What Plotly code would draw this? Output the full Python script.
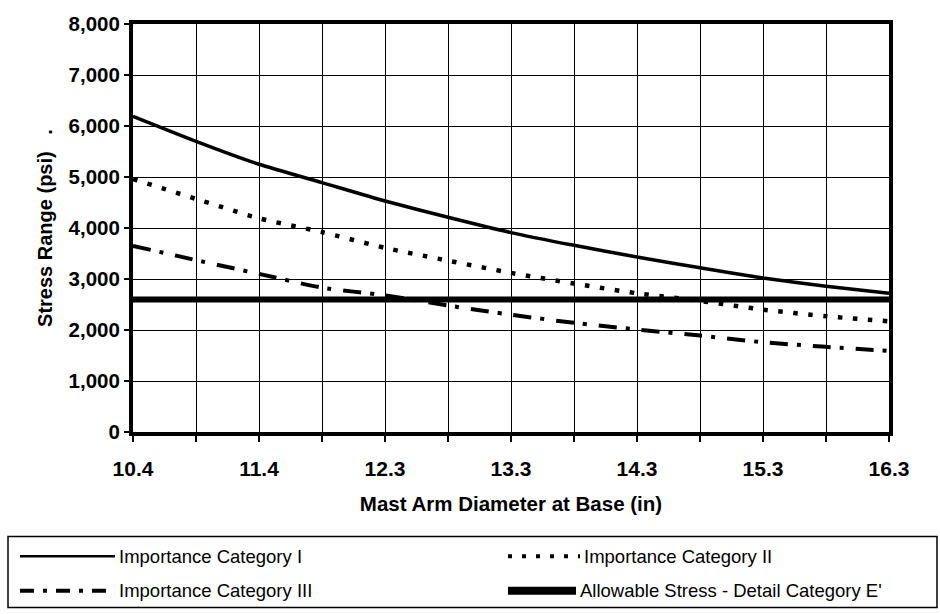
import plotly.graph_objects as go

# Mast arm base diameters (in); only every other one is labelled on the axis
diameters = ["10.4", "10.9", "11.4", "11.8", "12.3", "12.8", "13.3",
             "13.8", "14.3", "14.8", "15.3", "15.8", "16.3"]
labelled = ["10.4", "11.4", "12.3", "13.3", "14.3", "15.3", "16.3"]

# Stress range (psi) for each importance category
cat_1 = [6190, 5700, 5250, 4890, 4530, 4210, 3910, 3660, 3430, 3220, 3020, 2860, 2720]
cat_2 = [4960, 4570, 4190, 3920, 3610, 3360, 3120, 2910, 2720, 2570, 2400, 2270, 2170]
cat_3 = [3650, 3370, 3100, 2830, 2680, 2480, 2300, 2140, 2010, 1890, 1760, 1670, 1590]
allowable = 2600  # constant-amplitude fatigue threshold, Detail Category E'

names = ["Importance Category I", "Importance Category II",
         "Importance Category III", "Allowable Stress - Detail Category E'"]

y_ticks = list(range(0, 8001, 1000))

FONT = "Liberation Sans, Arial, sans-serif"
CURVE = dict(shape="spline", smoothing=0.6)

fig = go.Figure()
fig.add_trace(go.Scatter(x=diameters, y=cat_1, mode="lines", name=names[0],
                         line=dict(color="black", width=3.5, **CURVE)))
fig.add_trace(go.Scatter(x=diameters, y=cat_2, mode="lines", name=names[1],
                         line=dict(color="black", width=4.5, dash="4.5px,10.5px", **CURVE)))
fig.add_trace(go.Scatter(x=diameters, y=cat_3, mode="lines", name=names[2],
                         line=dict(color="black", width=4, dash="18px,9px,4px,12px", **CURVE)))
fig.add_trace(go.Scatter(x=diameters, y=[allowable] * len(diameters), mode="lines",
                         name=names[3], line=dict(color="black", width=6)))

# Plot area in pixels (left, right, top, bottom) used to place the legend box
L, R, T, B = 133, 889, 18, 432


def px_x(p):
    return (p - L) / (R - L)


def px_y(p):
    return (B - p) / (B - T)


shapes = [dict(type="rect", xref="paper", yref="paper",
               x0=px_x(8), x1=px_x(937), y0=px_y(538), y1=px_y(610),
               line=dict(color="black", width=1.5), fillcolor="white")]
annotations = []

legend_rows = [
    # (sample x0, x1, row y, text x, line style)
    (20, 115, 558, 117, dict(color="black", width=2.5)),
    (508, 580, 558, 582, dict(color="black", width=4, dash="4px,10px")),
    (20, 110, 593, 117, dict(color="black", width=4, dash="14px,9px,4px,9px")),
    (508, 576, 593, 578, dict(color="black", width=8)),
]
for name, (x0, x1, yy, tx, style) in zip(names, legend_rows):
    shapes.append(dict(type="line", xref="paper", yref="paper",
                       x0=px_x(x0), x1=px_x(x1), y0=px_y(yy), y1=px_y(yy), line=style))
    annotations.append(dict(xref="paper", yref="paper", x=px_x(tx), y=px_y(yy),
                            xanchor="left", yanchor="middle", showarrow=False,
                            text=name, font=dict(family=FONT, size=18.5, color="black")))

fig.update_layout(
    width=940, height=614,
    margin=dict(l=L, r=940 - R, t=T, b=614 - B),
    paper_bgcolor="white", plot_bgcolor="white",
    showlegend=False,
    shapes=shapes, annotations=annotations,
    font=dict(family=FONT, color="black"),
)

fig.update_xaxes(
    type="category", categoryorder="array", categoryarray=diameters,
    range=[0, len(diameters) - 1],
    tickmode="array", tickvals=diameters,
    ticktext=[d if d in labelled else "" for d in diameters],
    tickfont=dict(family=FONT, size=21, color="black", weight="bold"),
    ticks="outside", ticklen=6, tickwidth=1.5, tickcolor="black",
    ticklabelstandoff=9,
    showgrid=True, gridcolor="black", gridwidth=1,
    showline=True, linecolor="black", linewidth=4, mirror=True,
    zeroline=False,
    title=dict(text="<b>Mast Arm Diameter at Base (in)</b>",
               font=dict(family=FONT, size=20.5, color="black"), standoff=18),
)

fig.update_yaxes(
    range=[0, 8000], tickmode="array", tickvals=y_ticks,
    ticktext=[f"{v:,}" for v in y_ticks],
    tickfont=dict(family=FONT, size=20.5, color="black", weight="bold"),
    ticks="outside", ticklen=5, tickwidth=1.5, tickcolor="black",
    showgrid=True, gridcolor="black", gridwidth=1,
    showline=True, linecolor="black", linewidth=4, mirror=True,
    zeroline=False,
    title=dict(text="<b>Stress Range (psi)   .</b>",
               font=dict(family=FONT, size=20, color="black"), standoff=12),
)

fig.write_html("out.html")
